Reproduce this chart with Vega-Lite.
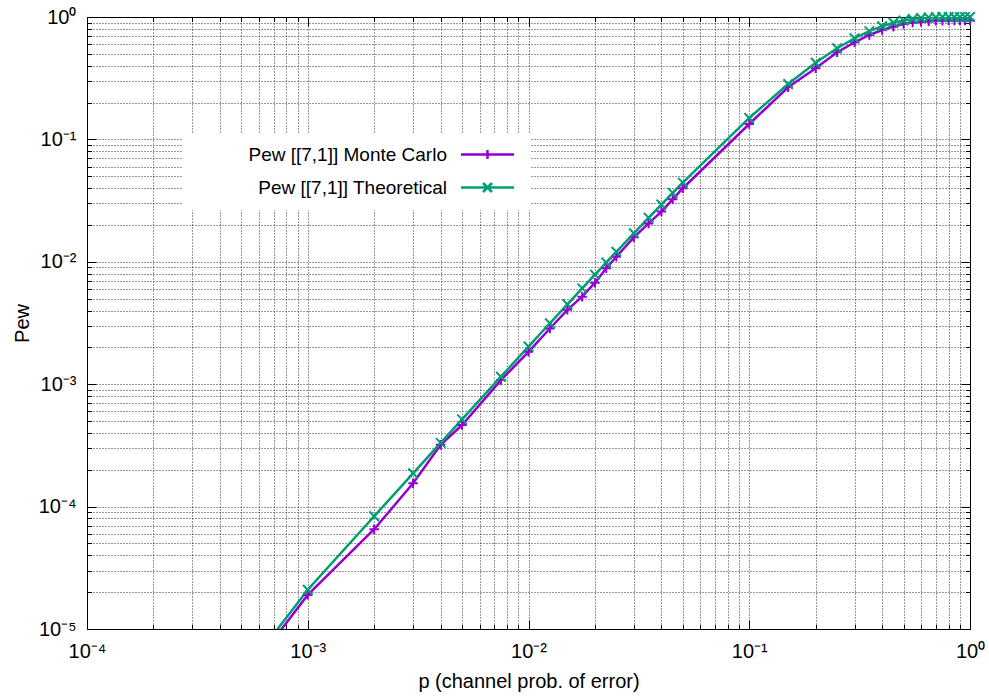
{
  "$schema": "https://vega.github.io/schema/vega-lite/v6.json",
  "width": 883,
  "height": 612,
  "autosize": {"type": "none"},
  "padding": {"left": 87, "top": 17, "right": 19, "bottom": 67},
  "background": "white",
  "config": {
    "view": {"stroke": "black", "strokeWidth": 1},
    "font": "Liberation Sans",
    "axis": {
      "labelFont": "Liberation Sans",
      "labelFontSize": 20,
      "labelColor": "black",
      "titleFont": "Liberation Sans",
      "titleFontSize": 20,
      "titleFontWeight": "normal",
      "titleColor": "black",
      "tickColor": "black",
      "tickWidth": 1,
      "domain": false,
      "labelFlush": false,
      "labelOverlap": false,
      "labelBound": false
    }
  },
  "data": {
    "values": [
      {"series": "Pew [[7,1]] Monte Carlo", "p": 0.0005, "pew": 0.0000037},
      {"series": "Pew [[7,1]] Monte Carlo", "p": 0.001, "pew": 0.000019},
      {"series": "Pew [[7,1]] Monte Carlo", "p": 0.002, "pew": 0.0000653},
      {"series": "Pew [[7,1]] Monte Carlo", "p": 0.003, "pew": 0.000155},
      {"series": "Pew [[7,1]] Monte Carlo", "p": 0.004, "pew": 0.00032},
      {"series": "Pew [[7,1]] Monte Carlo", "p": 0.005, "pew": 0.000464},
      {"series": "Pew [[7,1]] Monte Carlo", "p": 0.0075, "pew": 0.00108},
      {"series": "Pew [[7,1]] Monte Carlo", "p": 0.01, "pew": 0.00184},
      {"series": "Pew [[7,1]] Monte Carlo", "p": 0.0125, "pew": 0.00285},
      {"series": "Pew [[7,1]] Monte Carlo", "p": 0.015, "pew": 0.00405},
      {"series": "Pew [[7,1]] Monte Carlo", "p": 0.0175, "pew": 0.00519},
      {"series": "Pew [[7,1]] Monte Carlo", "p": 0.02, "pew": 0.00675},
      {"series": "Pew [[7,1]] Monte Carlo", "p": 0.0225, "pew": 0.00885},
      {"series": "Pew [[7,1]] Monte Carlo", "p": 0.025, "pew": 0.011},
      {"series": "Pew [[7,1]] Monte Carlo", "p": 0.03, "pew": 0.01585},
      {"series": "Pew [[7,1]] Monte Carlo", "p": 0.035, "pew": 0.0206},
      {"series": "Pew [[7,1]] Monte Carlo", "p": 0.04, "pew": 0.0257},
      {"series": "Pew [[7,1]] Monte Carlo", "p": 0.045, "pew": 0.0324},
      {"series": "Pew [[7,1]] Monte Carlo", "p": 0.05, "pew": 0.0399},
      {"series": "Pew [[7,1]] Monte Carlo", "p": 0.1, "pew": 0.1336},
      {"series": "Pew [[7,1]] Monte Carlo", "p": 0.15, "pew": 0.2666},
      {"series": "Pew [[7,1]] Monte Carlo", "p": 0.2, "pew": 0.381},
      {"series": "Pew [[7,1]] Monte Carlo", "p": 0.25, "pew": 0.515},
      {"series": "Pew [[7,1]] Monte Carlo", "p": 0.3, "pew": 0.621},
      {"series": "Pew [[7,1]] Monte Carlo", "p": 0.35, "pew": 0.713},
      {"series": "Pew [[7,1]] Monte Carlo", "p": 0.4, "pew": 0.783},
      {"series": "Pew [[7,1]] Monte Carlo", "p": 0.45, "pew": 0.834},
      {"series": "Pew [[7,1]] Monte Carlo", "p": 0.5, "pew": 0.875},
      {"series": "Pew [[7,1]] Monte Carlo", "p": 0.55, "pew": 0.9},
      {"series": "Pew [[7,1]] Monte Carlo", "p": 0.6, "pew": 0.915},
      {"series": "Pew [[7,1]] Monte Carlo", "p": 0.65, "pew": 0.925},
      {"series": "Pew [[7,1]] Monte Carlo", "p": 0.7, "pew": 0.93},
      {"series": "Pew [[7,1]] Monte Carlo", "p": 0.75, "pew": 0.933},
      {"series": "Pew [[7,1]] Monte Carlo", "p": 0.8, "pew": 0.935},
      {"series": "Pew [[7,1]] Monte Carlo", "p": 0.85, "pew": 0.936},
      {"series": "Pew [[7,1]] Monte Carlo", "p": 0.9, "pew": 0.937},
      {"series": "Pew [[7,1]] Monte Carlo", "p": 0.95, "pew": 0.937},
      {"series": "Pew [[7,1]] Monte Carlo", "p": 1.0, "pew": 0.937},
      {"series": "Pew [[7,1]] Theoretical", "p": 0.0005, "pew": 0.0000041},
      {"series": "Pew [[7,1]] Theoretical", "p": 0.001, "pew": 0.00002093},
      {"series": "Pew [[7,1]] Theoretical", "p": 0.002, "pew": 0.00008344},
      {"series": "Pew [[7,1]] Theoretical", "p": 0.003, "pew": 0.0001871},
      {"series": "Pew [[7,1]] Theoretical", "p": 0.004, "pew": 0.0003315},
      {"series": "Pew [[7,1]] Theoretical", "p": 0.005, "pew": 0.0005163},
      {"series": "Pew [[7,1]] Theoretical", "p": 0.0075, "pew": 0.001152},
      {"series": "Pew [[7,1]] Theoretical", "p": 0.01, "pew": 0.002031},
      {"series": "Pew [[7,1]] Theoretical", "p": 0.0125, "pew": 0.003147},
      {"series": "Pew [[7,1]] Theoretical", "p": 0.015, "pew": 0.004494},
      {"series": "Pew [[7,1]] Theoretical", "p": 0.0175, "pew": 0.006066},
      {"series": "Pew [[7,1]] Theoretical", "p": 0.02, "pew": 0.007856},
      {"series": "Pew [[7,1]] Theoretical", "p": 0.0225, "pew": 0.00986},
      {"series": "Pew [[7,1]] Theoretical", "p": 0.025, "pew": 0.012071},
      {"series": "Pew [[7,1]] Theoretical", "p": 0.03, "pew": 0.017093},
      {"series": "Pew [[7,1]] Theoretical", "p": 0.035, "pew": 0.022874},
      {"series": "Pew [[7,1]] Theoretical", "p": 0.04, "pew": 0.02938},
      {"series": "Pew [[7,1]] Theoretical", "p": 0.045, "pew": 0.03657},
      {"series": "Pew [[7,1]] Theoretical", "p": 0.05, "pew": 0.04438},
      {"series": "Pew [[7,1]] Theoretical", "p": 0.1, "pew": 0.1497},
      {"series": "Pew [[7,1]] Theoretical", "p": 0.15, "pew": 0.2834},
      {"series": "Pew [[7,1]] Theoretical", "p": 0.2, "pew": 0.4233},
      {"series": "Pew [[7,1]] Theoretical", "p": 0.25, "pew": 0.5551},
      {"series": "Pew [[7,1]] Theoretical", "p": 0.3, "pew": 0.6706},
      {"series": "Pew [[7,1]] Theoretical", "p": 0.35, "pew": 0.7662},
      {"series": "Pew [[7,1]] Theoretical", "p": 0.4, "pew": 0.8414},
      {"series": "Pew [[7,1]] Theoretical", "p": 0.45, "pew": 0.8976},
      {"series": "Pew [[7,1]] Theoretical", "p": 0.5, "pew": 0.9375},
      {"series": "Pew [[7,1]] Theoretical", "p": 0.55, "pew": 0.9643},
      {"series": "Pew [[7,1]] Theoretical", "p": 0.6, "pew": 0.9812},
      {"series": "Pew [[7,1]] Theoretical", "p": 0.65, "pew": 0.991},
      {"series": "Pew [[7,1]] Theoretical", "p": 0.7, "pew": 0.9962},
      {"series": "Pew [[7,1]] Theoretical", "p": 0.75, "pew": 0.9987},
      {"series": "Pew [[7,1]] Theoretical", "p": 0.8, "pew": 0.9996},
      {"series": "Pew [[7,1]] Theoretical", "p": 0.85, "pew": 0.9999},
      {"series": "Pew [[7,1]] Theoretical", "p": 0.9, "pew": 1.0},
      {"series": "Pew [[7,1]] Theoretical", "p": 0.95, "pew": 1.0},
      {"series": "Pew [[7,1]] Theoretical", "p": 1.0, "pew": 1.0}
    ]
  },
  "layer": [
    {
      "mark": {"type": "line", "clip": true, "strokeWidth": 2.5},
      "encoding": {
        "x": {
          "field": "p", "type": "quantitative",
          "scale": {"type": "log", "domain": [0.0001, 1], "nice": false},
          "axis": {
            "orient": "bottom",
            "title": "p (channel prob. of error)",
            "titlePadding": 6,
            "values": [0.0001,0.0002,0.0003,0.0004,0.0005,0.0006,0.0007,0.0008,0.0009,0.001,0.002,0.003,0.004,0.005,0.006,0.007,0.008,0.009,0.01,0.02,0.03,0.04,0.05,0.06,0.07,0.08,0.09,0.1,0.2,0.3,0.4,0.5,0.6,0.7,0.8,0.9,1],
            "labelExpr": "abs(log(datum.value)/LN10 - round(log(datum.value)/LN10)) < 0.001 ? '10' + ['⁰','⁻¹','⁻²','⁻³','⁻⁴','⁻⁵'][-round(log(datum.value)/LN10)] : ''",
            "labelPadding": 21,
            "grid": true, "gridColor": "black", "gridDash": [1, 2], "gridWidth": 1, "gridOpacity": 0.8,
            "ticks": true,
            "tickSize": {"condition": {"test": "abs(log(datum.value)/LN10 - round(log(datum.value)/LN10)) < 0.001", "value": -9}, "value": -4.5}
          }
        },
        "y": {
          "field": "pew", "type": "quantitative",
          "scale": {"type": "log", "domain": [0.00001, 1], "nice": false},
          "axis": {
            "orient": "left",
            "title": "Pew",
            "titlePadding": 6,
            "values": [0.00001,0.00002,0.00003,0.00004,0.00005,0.00006,0.00007,0.00008,0.00009,0.0001,0.0002,0.0003,0.0004,0.0005,0.0006,0.0007,0.0008,0.0009,0.001,0.002,0.003,0.004,0.005,0.006,0.007,0.008,0.009,0.01,0.02,0.03,0.04,0.05,0.06,0.07,0.08,0.09,0.1,0.2,0.3,0.4,0.5,0.6,0.7,0.8,0.9,1],
            "labelExpr": "abs(log(datum.value)/LN10 - round(log(datum.value)/LN10)) < 0.001 ? '10' + ['⁰','⁻¹','⁻²','⁻³','⁻⁴','⁻⁵'][-round(log(datum.value)/LN10)] : ''",
            "labelPadding": 20,
            "grid": true, "gridColor": "black", "gridDash": [1, 2], "gridWidth": 1, "gridOpacity": 0.8,
            "ticks": true,
            "tickSize": {"condition": {"test": "abs(log(datum.value)/LN10 - round(log(datum.value)/LN10)) < 0.001", "value": -9}, "value": -4.5}
          }
        },
        "color": {
          "field": "series", "type": "nominal",
          "scale": {"domain": ["Pew [[7,1]] Monte Carlo", "Pew [[7,1]] Theoretical"], "range": ["#9400d3", "#009e73"]},
          "legend": {
            "orient": "none",
            "legendX": 96,
            "legendY": 116,
            "title": null,
            "fillColor": "white",
            "padding": 12,
            "symbolSize": 100,
            "symbolStrokeWidth": 2.5,
            "labelFont": "Liberation Sans",
            "labelFontSize": 19,
            "labelColor": "black",
            "labelAlign": "right",
            "labelLimit": 400,
            "labelOffset": -50,
            "symbolOffset": 283,
            "rowPadding": 13,
            "encode": {
              "symbols": {
                "update": {
                  "shape": {"signal": "datum.value === 'Pew [[7,1]] Monte Carlo' ? 'M-5.3,0L5.3,0M0,-0.9L0,0.9' : 'M-5.3,0L5.3,0M-0.9,-0.9L0.9,0.9M-0.9,0.9L0.9,-0.9'"},
                  "fill": {"value": "transparent"},
                  "strokeWidth": {"value": 2.5}
                }
              }
            }
          }
        }
      }
    },
    {
      "transform": [{"filter": "datum.p >= 0.001 && datum.series === 'Pew [[7,1]] Monte Carlo'"}],
      "mark": {"type": "point", "filled": false, "strokeWidth": 2, "size": 90, "opacity": 1, "color": "#9400d3", "shape": "M-1,0L1,0M0,-1L0,1"},
      "encoding": {
        "x": {
          "field": "p", "type": "quantitative",
          "scale": {"type": "log", "domain": [0.0001, 1], "nice": false},
          "axis": {
            "orient": "top", "title": null, "labels": false, "grid": false,
            "values": [0.0001,0.0002,0.0003,0.0004,0.0005,0.0006,0.0007,0.0008,0.0009,0.001,0.002,0.003,0.004,0.005,0.006,0.007,0.008,0.009,0.01,0.02,0.03,0.04,0.05,0.06,0.07,0.08,0.09,0.1,0.2,0.3,0.4,0.5,0.6,0.7,0.8,0.9,1],
            "ticks": true,
            "tickSize": {"condition": {"test": "abs(log(datum.value)/LN10 - round(log(datum.value)/LN10)) < 0.001", "value": -9}, "value": -4.5}
          }
        },
        "y": {
          "field": "pew", "type": "quantitative",
          "scale": {"type": "log", "domain": [0.00001, 1], "nice": false},
          "axis": {
            "orient": "right", "title": null, "labels": false, "grid": false,
            "values": [0.00001,0.00002,0.00003,0.00004,0.00005,0.00006,0.00007,0.00008,0.00009,0.0001,0.0002,0.0003,0.0004,0.0005,0.0006,0.0007,0.0008,0.0009,0.001,0.002,0.003,0.004,0.005,0.006,0.007,0.008,0.009,0.01,0.02,0.03,0.04,0.05,0.06,0.07,0.08,0.09,0.1,0.2,0.3,0.4,0.5,0.6,0.7,0.8,0.9,1],
            "ticks": true,
            "tickSize": {"condition": {"test": "abs(log(datum.value)/LN10 - round(log(datum.value)/LN10)) < 0.001", "value": -9}, "value": -4.5}
          }
        }
      }
    },
    {
      "transform": [{"filter": "datum.p >= 0.001 && datum.series === 'Pew [[7,1]] Theoretical'"}],
      "mark": {"type": "point", "filled": false, "strokeWidth": 2, "size": 90, "opacity": 1, "color": "#009e73", "shape": "M-1,-1L1,1M-1,1L1,-1"},
      "encoding": {
        "x": {"field": "p", "type": "quantitative", "scale": {"type": "log", "domain": [0.0001, 1], "nice": false}, "axis": null},
        "y": {"field": "pew", "type": "quantitative", "scale": {"type": "log", "domain": [0.00001, 1], "nice": false}, "axis": null}
      }
    }
  ],
  "resolve": {"axis": {"x": "independent", "y": "independent"}}
}
